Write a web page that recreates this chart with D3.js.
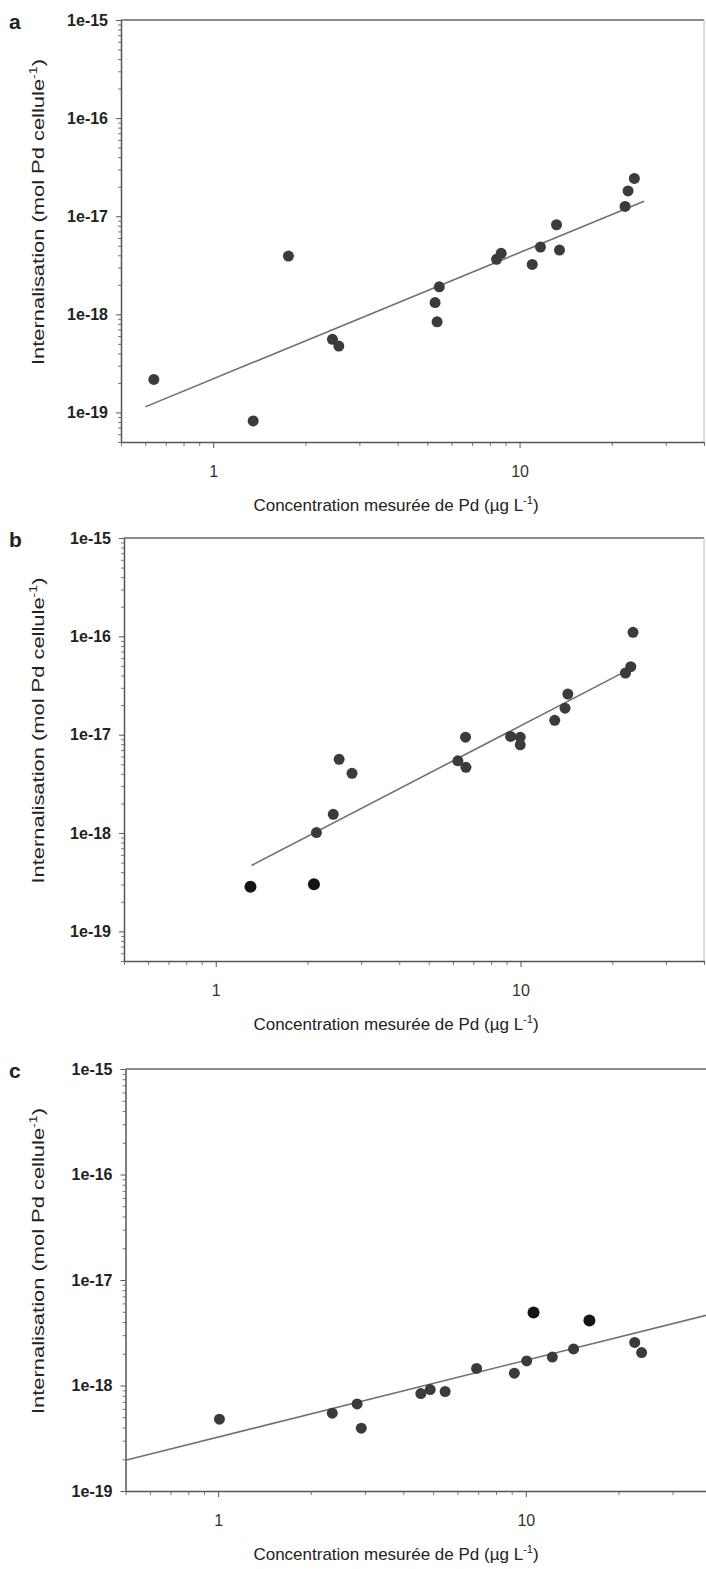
<!DOCTYPE html>
<html>
<head>
<meta charset="utf-8">
<script src="https://cdn.jsdelivr.net/npm/d3@7"></script>
<style>
  body { margin: 0; background: #fff; }
  svg text { font-family: "Liberation Sans", Arial, sans-serif; }
</style>
</head>
<body>
<div id="chart"></div>
<script>
// Valeurs
// Panneau a
const concA = [0.64, 1.35, 1.76, 2.45, 2.57, 5.30, 5.47, 5.38, 8.41, 8.71, 11.0, 11.7, 13.2, 13.5, 22.1, 22.6, 23.7];
const internA = [2.17e-19, 8.2e-20, 3.93e-18, 5.56e-19, 4.75e-19, 1.32e-18, 1.91e-18, 8.4e-19, 3.64e-18, 4.19e-18, 3.23e-18, 4.85e-18, 8.19e-18, 4.52e-18, 1.26e-17, 1.81e-17, 2.43e-17];
const fitA = [[0.60, 1.14e-19], [25.5, 1.42e-17]];

// Panneau b
const concB = [2.14, 2.43, 2.54, 2.80, 6.23, 6.62, 6.60, 9.28, 9.98, 9.98, 12.95, 14.0, 14.3, 22.1, 23.0, 23.4];
const internB = [1.01e-18, 1.55e-18, 5.62e-18, 4.05e-18, 5.42e-18, 4.66e-18, 9.44e-18, 9.59e-18, 9.44e-18, 7.89e-18, 1.40e-17, 1.86e-17, 2.59e-17, 4.24e-17, 4.92e-17, 1.10e-16];
const concBnoir = [1.30, 2.10];
const internBnoir = [2.84e-19, 3.02e-19];
const fitB = [[1.31, 4.68e-19], [22.4, 4.51e-17]];

// Panneau c
const concC = [1.01, 2.35, 2.83, 2.92, 4.56, 4.89, 5.47, 6.92, 9.18, 10.07, 12.2, 14.3, 22.6, 23.8];
const internC = [4.80e-19, 5.47e-19, 6.69e-19, 3.94e-19, 8.39e-19, 9.16e-19, 8.77e-19, 1.45e-18, 1.31e-18, 1.71e-18, 1.86e-18, 2.22e-18, 2.56e-18, 2.05e-18];
const concCnoir = [10.6, 16.1];
const internCnoir = [4.93e-18, 4.14e-18];
const fitC = [[0.5, 1.96e-19], [40, 4.75e-18]];

// Graduations
const xTicks = [1, 10];
const xTickLabels = ["1", "10"];
const yTicks = [1e-15, 1e-16, 1e-17, 1e-18, 1e-19];
const yTickLabels = ["1e-15", "1e-16", "1e-17", "1e-18", "1e-19"];

const W = 706, H = 1569;
const svg = d3.select("#chart").append("svg").attr("width", W).attr("height", H);

createPanel({ letter: "a", top: 20, bottom: 442, left: 121, right: 704, yMin: 5e-20,
  x: concA, y: internA, xNoir: [], yNoir: [], fit: fitA, clip: "clipA" });
createPanel({ letter: "b", top: 538, bottom: 961, left: 124, right: 704, yMin: 5e-20,
  x: concB, y: internB, xNoir: concBnoir, yNoir: internBnoir, fit: fitB, clip: "clipB" });
createPanel({ letter: "c", top: 1069, bottom: 1491, left: 125.5, right: 711, yMin: 1e-19,
  x: concC, y: internC, xNoir: concCnoir, yNoir: internCnoir, fit: fitC, clip: "clipC" });

function createPanel(p) {
  const x = d3.scaleLog().domain([0.5, 40]).range([p.left, p.right]);
  const y = d3.scaleLog().domain([p.yMin, 1e-15]).range([p.bottom, p.top]);
  const g = svg.append("g");

  g.append("clipPath").attr("id", p.clip)
    .append("rect").attr("x", p.left).attr("y", p.top)
    .attr("width", p.right - p.left).attr("height", p.bottom - p.top);

  // cadre
  g.append("line").attr("x1", p.left).attr("x2", p.right).attr("y1", p.top).attr("y2", p.top)
    .attr("stroke", "#666").attr("stroke-width", 1.5);
  g.append("line").attr("x1", p.right).attr("x2", p.right).attr("y1", p.top).attr("y2", p.bottom)
    .attr("stroke", "#bbb").attr("stroke-width", 1);

  // axe Y : petites graduations puis grandes
  const yMinor = y.ticks().filter(v => !yTicks.some(t => Math.abs(t - v) / t < 1e-6));
  g.append("g").attr("transform", `translate(${p.left},0)`)
    .call(d3.axisLeft(y).tickValues(yMinor).tickSize(3).tickFormat(""))
    .call(s => s.select(".domain").remove())
    .selectAll("line").attr("stroke", "#777");
  const yAxis = g.append("g").attr("transform", `translate(${p.left},0)`)
    .call(d3.axisLeft(y).tickValues(yTicks).tickSize(5).tickSizeOuter(0)
      .tickFormat((d, i) => yTickLabels[i]).tickPadding(8));
  yAxis.select(".domain").attr("stroke", "#555").attr("stroke-width", 1.5);
  yAxis.selectAll("line").attr("stroke", "#555");
  yAxis.selectAll("text").style("font-size", "16px").style("font-weight", "bold").attr("fill", "#222");

  // axe X
  const xMinor = x.ticks().filter(v => !xTicks.includes(v));
  g.append("g").attr("transform", `translate(0,${p.bottom})`)
    .call(d3.axisBottom(x).tickValues(xMinor).tickSize(4).tickFormat(""))
    .call(s => s.select(".domain").remove())
    .selectAll("line").attr("stroke", "#777");
  const xAxis = g.append("g").attr("transform", `translate(0,${p.bottom})`)
    .call(d3.axisBottom(x).tickValues(xTicks).tickSize(6).tickSizeOuter(0)
      .tickFormat((d, i) => xTickLabels[i]).tickPadding(18));
  xAxis.select(".domain").attr("stroke", "#555").attr("stroke-width", 1.5);
  xAxis.selectAll("line").attr("stroke", "#555");
  xAxis.selectAll("text").style("font-size", "16px").attr("fill", "#333");

  // droite de régression
  g.append("path").datum(p.fit)
    .attr("clip-path", `url(#${p.clip})`)
    .attr("d", d3.line().x(d => x(d[0])).y(d => y(d[1])))
    .attr("fill", "none").attr("stroke", "#707070").attr("stroke-width", 1.6);

  // points
  g.append("g").selectAll("circle")
    .data(d3.zip(p.x, p.y))
    .enter().append("circle")
    .attr("cx", d => x(d[0])).attr("cy", d => y(d[1]))
    .attr("r", 5.5).attr("fill", "#3b3b3b");
  g.append("g").selectAll("circle")
    .data(d3.zip(p.xNoir, p.yNoir))
    .enter().append("circle")
    .attr("cx", d => x(d[0])).attr("cy", d => y(d[1]))
    .attr("r", 6).attr("fill", "#141414");

  // titres
  const yMid = (p.top + p.bottom) / 2 - 19;
  const yt = g.append("text")
    .attr("transform", `translate(44,${yMid}) rotate(-90)`)
    .attr("text-anchor", "middle").style("font-size", "17px").attr("fill", "#222")
    .attr("textLength", 306).attr("lengthAdjust", "spacingAndGlyphs");
  yt.append("tspan").text("Internalisation (mol Pd cellule");
  yt.append("tspan").text("-1").attr("dy", -7).style("font-size", "11px");
  yt.append("tspan").text(")").attr("dy", 7);

  const xt = g.append("text")
    .attr("x", 396).attr("y", p.bottom + 69)
    .attr("text-anchor", "middle").style("font-size", "17px").attr("fill", "#222");
  xt.append("tspan").text("Concentration mesurée de Pd (µg L");
  xt.append("tspan").text("-1").attr("dy", -7).style("font-size", "11px");
  xt.append("tspan").text(")").attr("dy", 7);

  g.append("text").attr("x", 9).attr("y", p.top + 9)
    .style("font-size", "21px").style("font-weight", "bold").attr("fill", "#222")
    .text(p.letter);
}
</script>
</body>
</html>
